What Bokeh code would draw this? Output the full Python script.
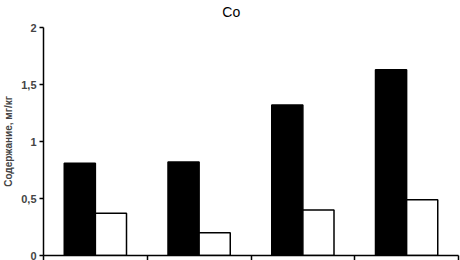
from bokeh.plotting import figure
from bokeh.models import FixedTicker, ColumnDataSource, Range1d, LinearAxis
from bokeh.embed import file_html
from bokeh.resources import INLINE

title_text = "Co"
groups = ["1", "2", "3", "4"]
series_black = [0.81, 0.82, 1.32, 1.63]
series_white = [0.37, 0.20, 0.40, 0.49]
y_ticks = [0, 0.5, 1, 1.5, 2]
y_tick_labels = ["0", "0,5", "1", "1,5", "2"]

W, H = 460, 260
FRAME_LEFT, FRAME_RIGHT = 41.5, 458

idx = list(range(len(groups)))
x_ticks = idx + [len(groups)]
src = ColumnDataSource(dict(
    xb=[i + 0.35 for i in idx],
    xw=[i + 0.65 for i in idx],
    b=series_black,
    w=series_white,
))

p = figure(width=W, height=H, output_backend="svg", toolbar_location=None,
           x_range=Range1d(0, len(groups)), y_range=Range1d(0, 2),
           min_border_left=0, min_border_right=2, min_border_top=27, min_border_bottom=0)

# title drawn as the single label of an axis above, centred on the whole canvas
p.extra_x_ranges = {"canvas": Range1d(FRAME_LEFT, FRAME_RIGHT)}
tax = LinearAxis(x_range_name="canvas", ticker=FixedTicker(ticks=[W / 2]),
                 major_label_overrides={W / 2: title_text})
tax.axis_line_color = None
tax.major_tick_line_color = None
tax.minor_tick_line_color = None
tax.major_tick_out = 0
tax.major_tick_in = 0
tax.major_label_standoff = 8
tax.major_label_text_font = "Liberation Sans"
tax.major_label_text_font_size = "14px"
tax.major_label_text_font_style = "normal"
tax.major_label_text_color = "black"
p.add_layout(tax, "above")

p.vbar(x="xb", top="b", width=0.3, bottom=0, source=src,
       fill_color="black", line_color="black", line_width=1.5)
p.vbar(x="xw", top="w", width=0.3, bottom=0, source=src,
       fill_color="white", line_color="black", line_width=1.5)

p.grid.visible = False
p.outline_line_color = None

xa = p.below[0]
xa.ticker = FixedTicker(ticks=x_ticks)
xa.major_label_text_font_size = "0px"
xa.major_tick_in = 0
xa.major_tick_out = 5
xa.minor_tick_line_color = None
xa.axis_line_width = 1.5
xa.major_tick_line_width = 1.5
xa.major_label_standoff = 0

p.yaxis.ticker = FixedTicker(ticks=y_ticks)
p.yaxis.major_label_overrides = {t_: l for t_, l in zip(y_ticks, y_tick_labels)}
p.yaxis.major_tick_in = 0
p.yaxis.major_tick_out = 4
p.yaxis.minor_tick_line_color = None
p.yaxis.axis_line_width = 1.5
p.yaxis.major_tick_line_width = 1.5
p.yaxis.major_label_text_font = "Liberation Sans"
p.yaxis.major_label_text_font_size = "11px"
p.yaxis.major_label_text_font_style = "bold"
p.yaxis.major_label_standoff = 3
p.yaxis.axis_label = "Содержание, мг/кг"
p.yaxis.axis_label_text_font = "Liberation Sans"
p.yaxis.axis_label_text_font_size = "10px"
p.yaxis.axis_label_text_font_style = "bold"
p.yaxis.axis_label_standoff = 4

open("out.html", "w").write(file_html(p, INLINE))
